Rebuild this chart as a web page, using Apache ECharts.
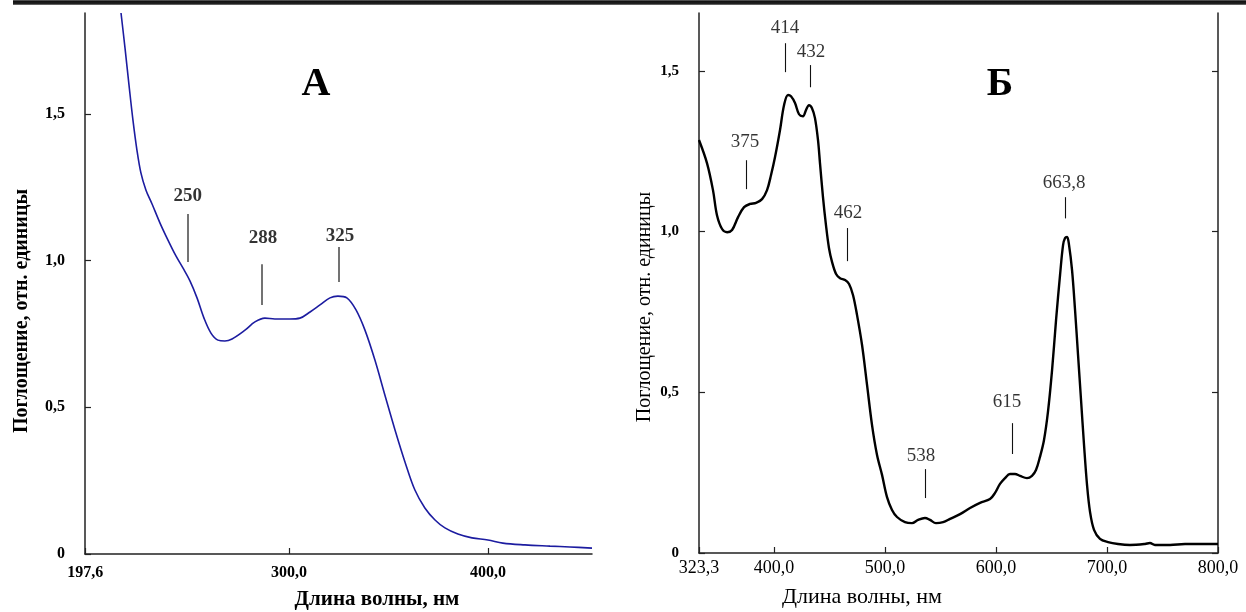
<!DOCTYPE html>
<html><head><meta charset="utf-8">
<script src="https://cdn.jsdelivr.net/npm/echarts@6/dist/echarts.min.js"></script>
<style>html,body{margin:0;padding:0;background:#fff}#c{width:1246px;height:612px}</style>
</head><body><div id="c"></div>
<script>
// ---- Panel A (blue spectrum) ----
const wavelengthA = [215.6,217.6,219.6,221.6,223.6,225.6,228.1,231.2,235.2,239.2,243.2,246.7,250.3,253.8,257.3,260.8,264.3,267.8,271.4,277.9,282.9,287.9,292.9,300.5,305.5,310.6,315.6,320.6,324.6,329.1,333.7,338.2,343.2,348.2,353.3,358.3,363.3,368.3,373.4,378.4,384.9,392.0,400,407.5,418.6,431.2,441.2,452.3];
const absorbanceA = [1.844,1.725,1.599,1.479,1.377,1.299,1.241,1.193,1.128,1.070,1.016,0.975,0.930,0.873,0.804,0.753,0.729,0.726,0.733,0.763,0.791,0.804,0.801,0.801,0.804,0.825,0.849,0.873,0.879,0.873,0.832,0.763,0.661,0.542,0.423,0.314,0.218,0.157,0.116,0.089,0.068,0.055,0.048,0.037,0.031,0.027,0.024,0.020];
const xTickValuesA = [197.6, 300, 400];
const xTickLabelsA = ['197,6', '300,0', '400,0'];
const yTickValuesA = [0, 0.5, 1.0, 1.5];
const yTickLabelsA = ['0', '0,5', '1,0', '1,5'];
const peakLabelsA = ['250', '288', '325'];
const peakXA = [249.1, 286.4, 325.1];
const peakTopA = [1.159, 0.988, 1.046];
const peakBottomA = [0.995, 0.849, 0.927];
const peakLabelXA = [249.1, 287.0, 325.6];
const peakLabelYA = [1.220, 1.077, 1.084];

// ---- Panel B (black spectrum) ----
const wavelengthB = [332.4,339.6,345.0,348.6,353.2,357.7,362.2,367.6,373.0,378.4,383.8,389.2,393.7,397.3,400.9,405.4,409.0,412.6,415.3,418.9,422.5,426.1,428.8,431.5,434.2,436.9,439.6,441.4,444.1,446.8,449.5,452.3,455.9,459.5,464.0,467.6,471.2,474.8,479.3,483.8,488.3,492.8,497.3,501.8,506.3,510.8,518.0,524.3,529.7,536.0,540.5,545.9,552.3,558.6,567.6,576.6,585.6,594.6,599.1,603.6,608.1,612.6,617.1,621.6,627.9,632.4,636.0,639.6,643.2,646.8,650.5,654.1,657.7,660.4,662.2,664.0,665.8,668.5,671.2,673.9,676.6,679.3,682.0,684.7,688.3,693.7,700.9,709.9,720.7,734.2,738.7,743.2,756.8,770.3,783.8,800.0];
const absorbanceB = [1.285,1.213,1.129,1.051,1.008,0.998,1.005,1.045,1.076,1.086,1.089,1.101,1.129,1.176,1.232,1.316,1.393,1.425,1.421,1.400,1.365,1.359,1.378,1.393,1.384,1.353,1.285,1.213,1.107,1.020,0.949,0.905,0.868,0.855,0.849,0.837,0.802,0.740,0.647,0.523,0.398,0.305,0.243,0.174,0.134,0.112,0.096,0.093,0.103,0.109,0.103,0.093,0.096,0.106,0.121,0.140,0.156,0.168,0.187,0.215,0.233,0.246,0.246,0.240,0.233,0.240,0.258,0.299,0.351,0.439,0.569,0.725,0.865,0.958,0.980,0.983,0.958,0.880,0.756,0.616,0.476,0.336,0.212,0.128,0.072,0.044,0.034,0.028,0.025,0.028,0.031,0.025,0.025,0.028,0.028,0.028];
const xTickValuesB = [332.4, 400, 500, 600, 700, 800];
const xTickLabelsB = ['323,3', '400,0', '500,0', '600,0', '700,0', '800,0'];
const yTickValuesB = [0, 0.5, 1.0, 1.5];
const yTickLabelsB = ['0', '0,5', '1,0', '1,5'];
const peakLabelsB = ['375', '414', '432', '462', '538', '615', '663,8'];
const peakXB = [374.8, 409.9, 432.4, 465.8, 536.0, 614.4, 662.2];
const peakTopB = [1.222, 1.586, 1.518, 1.011, 0.261, 0.404, 1.107];
const peakBottomB = [1.132, 1.496, 1.449, 0.908, 0.171, 0.308, 1.041];
const peakLabelXB = [373.9, 409.9, 433.3, 466.7, 532.4, 609.9, 661.3];
const peakLabelYB = [1.278, 1.633, 1.558, 1.058, 0.302, 0.470, 1.151];

const axisTitleX = 'Длина волны, нм';
const axisTitleY = 'Поглощение, отн. единицы';
const panelTitles = ['А', 'Б'];

const SERIF = '"Liberation Serif", "DejaVu Serif", serif';
const lookup = (vals, labels) => v => {
  for (let i = 0; i < vals.length; i++) if (Math.abs(vals[i] - v) < 1e-6) return labels[i];
  return '';
};

const chart = echarts.init(document.getElementById('c'), null, {renderer: 'canvas'});

function xAxisCfg(gi, min, max, vals, labels, lblFont, margin) {
  return {
    type: 'value', gridIndex: gi, min: min, max: max,
    axisLine: {show: true, onZero: false, lineStyle: {color: '#222', width: 1.5}},
    axisTick: {show: true, inside: true, length: 6, customValues: vals, lineStyle: {color: '#222', width: 1.2}},
    axisLabel: {show: true, customValues: vals, formatter: lookup(vals, labels), margin: margin,
      color: '#000', fontFamily: SERIF, fontSize: lblFont.size, fontWeight: lblFont.weight, showMinLabel: true, showMaxLabel: true},
    splitLine: {show: false}
  };
}
function yAxisCfg(gi, min, max, vals, labels, pos, showLabels, lblFont) {
  return {
    type: 'value', gridIndex: gi, min: min, max: max, position: pos,
    axisLine: {show: true, onZero: false, lineStyle: {color: '#222', width: 1.5}},
    axisTick: {show: true, inside: true, length: 6, customValues: vals, lineStyle: {color: '#222', width: 1.2}},
    axisLabel: {show: showLabels, customValues: vals, formatter: lookup(vals, labels), margin: 20,
      color: '#000', fontFamily: SERIF, fontSize: lblFont.size, fontWeight: lblFont.weight},
    splitLine: {show: false}
  };
}

function annotLines(xs, tops, bottoms, color, width) {
  return {
    silent: true, symbol: 'none', animation: false,
    label: {show: false},
    lineStyle: {color: color, width: width, type: 'solid'},
    emphasis: {disabled: true},
    data: xs.map((x, i) => [{coord: [x, tops[i]]}, {coord: [x, bottoms[i]]}])
  };
}
function labelSeries(xi, yi, labels, xs, ys, font) {
  return {
    type: 'scatter', xAxisIndex: xi, yAxisIndex: yi, symbolSize: 1, silent: true, animation: false,
    itemStyle: {color: 'rgba(0,0,0,0)'},
    data: labels.map((t, i) => ({value: [xs[i], ys[i]], name: t})),
    label: {show: true, position: 'inside', formatter: p => p.name, color: '#000',
      fontFamily: SERIF, fontSize: font.size, fontWeight: font.weight}
  };
}

const option = {
  animation: false,
  backgroundColor: '#fff',
  grid: [
    {left: 85, top: 13, width: 507, height: 541, containLabel: false},
    {left: 699, top: 13, width: 519, height: 540, containLabel: false}
  ],
  xAxis: [
    xAxisCfg(0, 197.5, 452.3, xTickValuesA, xTickLabelsA, {size: 16, weight: 'bold'}, 11),
    xAxisCfg(1, 332.4, 800, xTickValuesB, xTickLabelsB, {size: 18, weight: 'normal'}, 6)
  ],
  yAxis: [
    yAxisCfg(0, 0, 1.844, yTickValuesA, yTickLabelsA, 'left', true, {size: 16, weight: 'bold'}),
    yAxisCfg(1, 0, 1.68, yTickValuesB, yTickLabelsB, 'left', true, {size: 15, weight: 'bold'}),
    yAxisCfg(1, 0, 1.68, yTickValuesB, yTickLabelsB, 'right', false, {size: 15, weight: 'bold'})
  ],
  series: [
    {
      type: 'line', xAxisIndex: 0, yAxisIndex: 0, showSymbol: false, smooth: 0.35,
      lineStyle: {color: '#1c1ca0', width: 1.6},
      data: wavelengthA.map((w, i) => [w, absorbanceA[i]]),
      markLine: annotLines(peakXA, peakTopA, peakBottomA, '#444', 1.5)
    },
    {
      type: 'line', xAxisIndex: 1, yAxisIndex: 1, showSymbol: false, smooth: 0.35,
      lineStyle: {color: '#000', width: 2.4},
      data: wavelengthB.map((w, i) => [w, absorbanceB[i]]),
      markLine: annotLines(peakXB, peakTopB, peakBottomB, '#111', 1.1)
    },
    labelSeries(0, 0, peakLabelsA, peakLabelXA, peakLabelYA, {size: 19, weight: 'bold'}),
    labelSeries(1, 1, peakLabelsB, peakLabelXB, peakLabelYB, {size: 19, weight: 'normal'})
  ],
  graphic: [
    {type: 'rect', left: 13, top: 0, shape: {width: 1233, height: 5}, silent: true,
      style: {fill: new echarts.graphic.LinearGradient(0, 0, 0, 1, [
        {offset: 0, color: '#777'}, {offset: 0.25, color: '#111'}, {offset: 0.75, color: '#222'}, {offset: 1, color: '#888'}])}},
    {type: 'text', x: 316, y: 85, silent: true,
      style: {text: panelTitles[0], font: 'bold 40px ' + SERIF, fill: '#000', textAlign: 'center', textVerticalAlign: 'middle'}},
    {type: 'text', x: 1000, y: 85, silent: true,
      style: {text: panelTitles[1], font: 'bold 40px ' + SERIF, fill: '#000', textAlign: 'center', textVerticalAlign: 'middle'}},
    {type: 'text', x: 377, y: 600, silent: true,
      style: {text: axisTitleX, font: 'bold 21px ' + SERIF, fill: '#000', textAlign: 'center', textVerticalAlign: 'middle'}},
    {type: 'text', x: 862, y: 597, silent: true,
      style: {text: axisTitleX, font: '22px ' + SERIF, fill: '#000', textAlign: 'center', textVerticalAlign: 'middle'}},
    {type: 'text', x: 22, y: 311, rotation: Math.PI / 2, silent: true,
      style: {text: axisTitleY, font: 'bold 20px ' + SERIF, fill: '#000', textAlign: 'center', textVerticalAlign: 'middle'}},
    {type: 'text', x: 645, y: 307, rotation: Math.PI / 2, silent: true,
      style: {text: axisTitleY, font: '20px ' + SERIF, fill: '#000', textAlign: 'center', textVerticalAlign: 'middle'}}
  ]
};
chart.setOption(option);
</script>
</body></html>
